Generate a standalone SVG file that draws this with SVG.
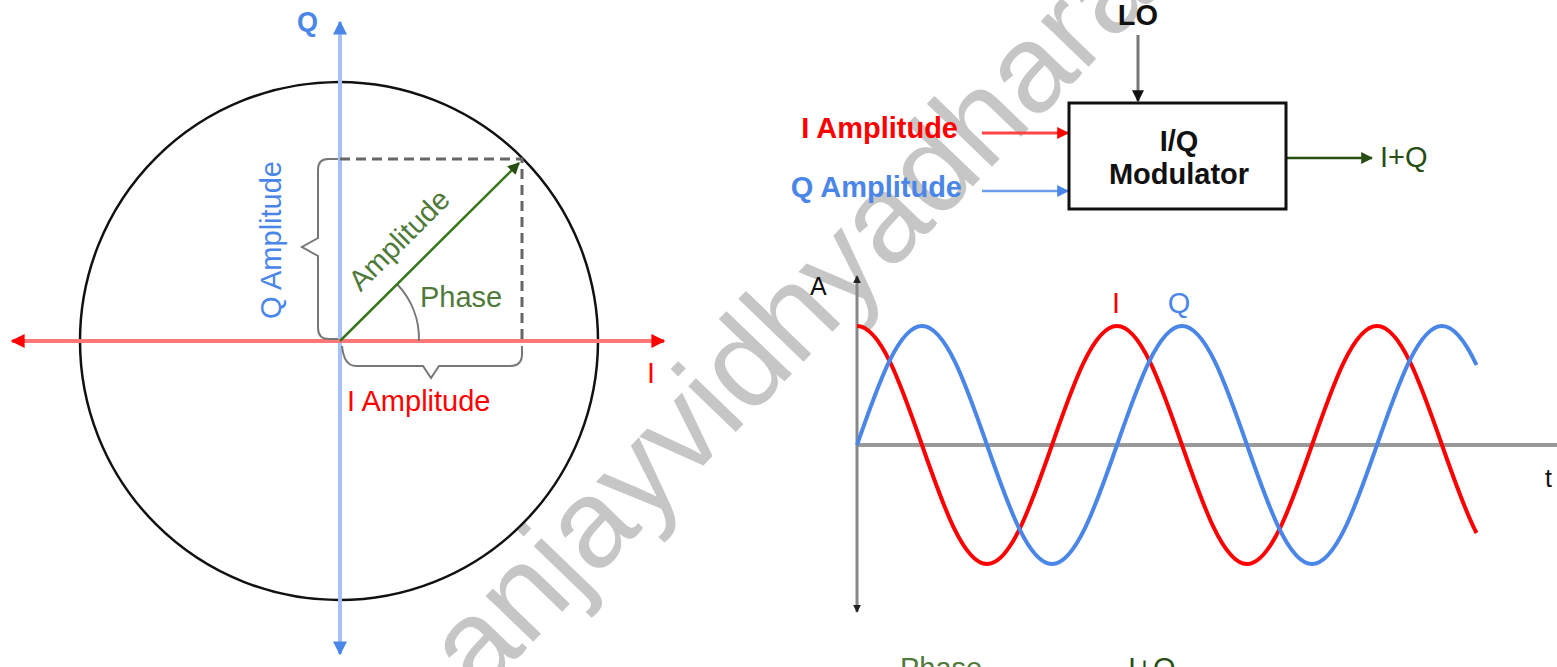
<svg xmlns="http://www.w3.org/2000/svg" width="1557" height="667" viewBox="0 0 1557 667">
<style>
.t{font-family:"Liberation Sans",Arial,sans-serif;font-size:29px}
.b{font-weight:bold}
.red{fill:#ff0000}
.blue{fill:#4a86e8}
.grn{fill:#4f7a3a}
.dgrn{fill:#274e13}
.blk{fill:#111}
.wm{font-family:"Liberation Sans",Arial,sans-serif;font-size:125px;fill:#c6c6c6}
.dash{stroke:#666;stroke-width:3;stroke-dasharray:10 6;fill:none}
.brace{stroke:#777;stroke-width:2;fill:none}
</style>
<defs>
<marker id="mRed" viewBox="0 0 10 10" refX="9" refY="5" markerWidth="14" markerHeight="14" markerUnits="userSpaceOnUse" orient="auto-start-reverse"><path d="M0,0 L10,5 L0,10 z" fill="#ff0000"/></marker>
<marker id="mBlue" viewBox="0 0 10 10" refX="9" refY="5" markerWidth="14" markerHeight="14" markerUnits="userSpaceOnUse" orient="auto-start-reverse"><path d="M0,0 L10,5 L0,10 z" fill="#4a86e8"/></marker>
<marker id="mGrn" viewBox="0 0 10 10" refX="9" refY="5" markerWidth="12" markerHeight="12" markerUnits="userSpaceOnUse" orient="auto"><path d="M0,0 L10,5 L0,10 z" fill="#274e13"/></marker>
<marker id="mRedS" viewBox="0 0 10 10" refX="9" refY="5" markerWidth="12" markerHeight="12" markerUnits="userSpaceOnUse" orient="auto"><path d="M0,0 L10,5 L0,10 z" fill="#ff0000"/></marker>
<marker id="mBlueS" viewBox="0 0 10 10" refX="9" refY="5" markerWidth="12" markerHeight="12" markerUnits="userSpaceOnUse" orient="auto"><path d="M0,0 L10,5 L0,10 z" fill="#4a86e8"/></marker>
<marker id="mBlk" viewBox="0 0 10 10" refX="9" refY="5" markerWidth="12" markerHeight="12" markerUnits="userSpaceOnUse" orient="auto-start-reverse"><path d="M0,0 L10,5 L0,10 z" fill="#111"/></marker>
<marker id="mBlkS" viewBox="0 0 10 10" refX="9" refY="5" markerWidth="8" markerHeight="8" markerUnits="userSpaceOnUse" orient="auto-start-reverse"><path d="M0,0 L10,5 L0,10 z" fill="#222"/></marker>
</defs>
<rect width="1557" height="667" fill="#fff"/>
<g id="watermark">
<text class="wm" transform="translate(479,698) rotate(-46)">anjayvidhyadhara</text>
</g>
<g id="phasor">
<circle id="circle" cx="339" cy="341" r="259" fill="none" stroke="#111" stroke-width="2.5"/>
<g id="axes">
<line x1="340" y1="654" x2="340" y2="22" stroke="#a4c2f4" stroke-width="4" marker-start="url(#mBlue)" marker-end="url(#mBlue)"/>
<line x1="12" y1="341" x2="664" y2="341" stroke="#ff7777" stroke-width="4" marker-start="url(#mRed)" marker-end="url(#mRed)"/>
</g>
<g id="projections">
<path class="dash" d="M340,159 H522 V341"/>
</g>
<g id="braces">
<path class="brace" d="M338,159 H328 Q318,159 318,170 V238 L302,247 L318,256 V328 Q318,339 329,339 H338"/>
<path class="brace" d="M342,346 Q344,366 356,366 H423 L431,378 L439,366 H510 Q522,366 522,354 V346"/>
<path class="brace" d="M397,284 A80,80 0 0 1 419,341"/>
</g>
<g id="amplitude-vector">
<line x1="340" y1="341" x2="519" y2="163" stroke="#38761d" stroke-width="2.5" marker-end="url(#mGrn)"/>
</g>
<g id="phasor-labels">
<text class="t b blue" x="297" y="31" style="font-size:27px">Q</text>
<text class="t red" x="647" y="383">I</text>
<text class="t blue" text-anchor="middle" transform="translate(281,240) rotate(-90)">Q Amplitude</text>
<text class="t red" x="347" y="411">I Amplitude</text>
<text class="t grn" text-anchor="middle" transform="translate(406,247) rotate(-45)">Amplitude</text>
<text class="t grn" x="420" y="307">Phase</text>
</g>
</g>
<g id="modulator-block">
<g id="connectors">
<line x1="1138" y1="35" x2="1138" y2="101" stroke="#777" stroke-width="3" marker-end="url(#mBlk)"/>
<line x1="982" y1="133" x2="1068" y2="133" stroke="#ff4444" stroke-width="3" marker-end="url(#mRedS)"/>
<line x1="982" y1="191" x2="1068" y2="191" stroke="#6d9eeb" stroke-width="2.5" marker-end="url(#mBlueS)"/>
<line x1="1287" y1="158" x2="1372" y2="158" stroke="#274e13" stroke-width="2.5" marker-end="url(#mGrn)"/>
</g>
<g id="node-lo"><text class="t b blk" x="1138" y="25" text-anchor="middle">LO</text></g>
<g id="node-i-amp"><text class="t b red" x="958" y="138" text-anchor="end">I Amplitude</text></g>
<g id="node-q-amp"><text class="t b blue" x="962" y="197" text-anchor="end">Q Amplitude</text></g>
<g id="node-modulator">
<rect x="1069" y="103" width="217" height="106" fill="#fff" stroke="#111" stroke-width="3"/>
<text class="t b blk" x="1179" y="151" text-anchor="middle">I/Q</text>
<text class="t b blk" x="1179" y="184" text-anchor="middle">Modulator</text>
</g>
<g id="node-out"><text class="t dgrn" x="1380" y="167">I+Q</text></g>
</g>
<g id="waveform">
<line x1="857" y1="445" x2="1557" y2="445" stroke="#999" stroke-width="4"/>
<line x1="857" y1="612" x2="857" y2="276" stroke="#888" stroke-width="3" marker-start="url(#mBlkS)" marker-end="url(#mBlkS)"/>
<path d="M857,326 C880.5,326 900.8,384 922,445 C943.2,506 963.5,564 987,564 C1010.5,564 1030.8,506 1052,445 C1073.2,384 1093.5,326 1117,326 C1140.5,326 1160.8,384 1182,445 C1203.2,506 1223.5,564 1247,564 C1270.5,564 1290.8,506 1312,445 C1333.2,384 1353.5,326 1377,326 C1400.5,326 1420.8,384 1442,445 C1453.5,478 1465,511 1476.5,533" fill="none" stroke="#ff0000" stroke-width="4"/>
<path d="M857,445 C878.2,384 898.5,326 922,326 C945.5,326 965.8,384 987,445 C1008.2,506 1028.5,564 1052,564 C1075.5,564 1095.8,506 1117,445 C1138.2,384 1158.5,326 1182,326 C1205.5,326 1225.8,384 1247,445 C1268.2,506 1288.5,564 1312,564 C1335.5,564 1355.8,506 1377,445 C1398.2,384 1418.5,326 1442,326 C1453.5,326 1465,340.5 1476.5,365" fill="none" stroke="#4a86e8" stroke-width="4"/>
<text class="t blk" x="810" y="295" style="font-size:25px">A</text>
<text class="t blk" x="1545" y="487" style="font-size:25px">t</text>
<text class="t red" x="1116" y="313" text-anchor="middle">I</text>
<text class="t blue" x="1179" y="313" text-anchor="middle">Q</text>
<text class="t grn" x="900" y="678">Phase</text>
<text class="t dgrn" x="1128" y="678">I+Q</text>
</g>
</svg>
